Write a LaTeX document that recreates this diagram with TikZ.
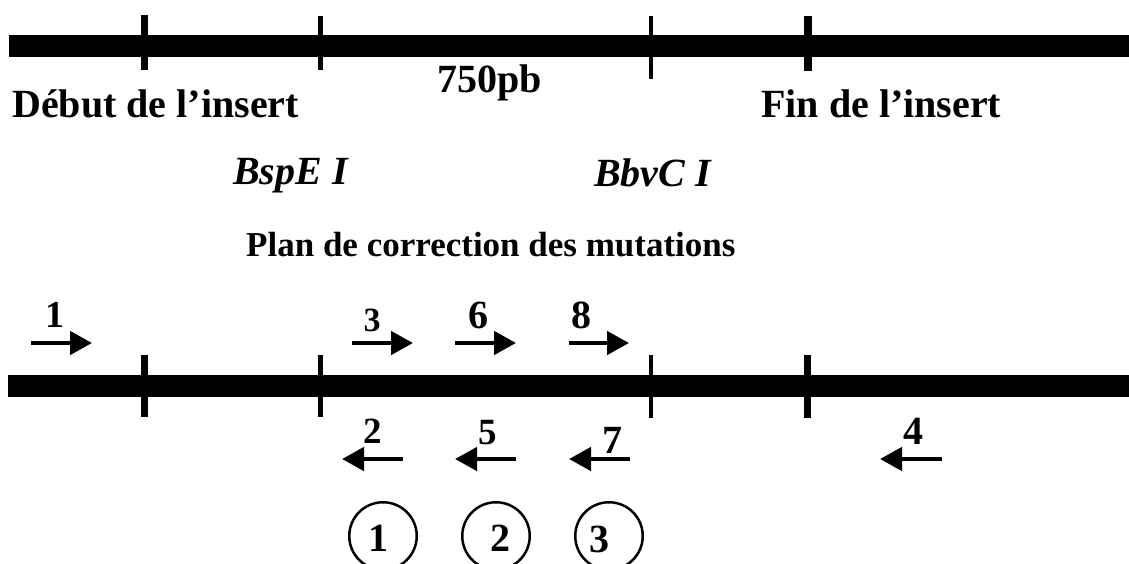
\documentclass[tikz,border=0pt]{standalone}
\usepackage{fontspec}
\setmainfont{Liberation Serif}
\usetikzlibrary{arrows.meta}
\begin{document}
\begin{tikzpicture}[x=1pt,y=-1pt,
  dnabar/.style={line width=22pt},
  site/.style={line width=#1},
  primer/.style={line width=4.6pt,-{Triangle[length=22pt,width=23pt]}},
  title/.style={font=\bfseries\fontsize{40}{48}\selectfont,inner sep=0pt,anchor=base west},
  enzyme/.style={font=\bfseries\itshape\fontsize{40}{48}\selectfont,inner sep=0pt,anchor=base west},
  caption/.style={font=\bfseries\fontsize{35}{42}\selectfont,inner sep=0pt,anchor=base west},
  num/.style={font=\bfseries\fontsize{#1}{#1}\selectfont,inner sep=0pt,anchor=base},
  num/.default=38,
  ring/.style={circle,draw,line width=2.5pt,minimum size=67.5pt,inner sep=0pt},
]
\useasboundingbox (0,0) rectangle (1129,564);
\clip (0,0) rectangle (1129,564);

% ---------- upper map ----------
\coordinate (tl) at (9,46);
\coordinate (tr) at (1129,46);
\draw[dnabar] (tl) -- (tr);
\coordinate (ta1) at (144.5,15); \coordinate (tb1) at (144.5,70);
\coordinate (ta2) at (320.5,16); \coordinate (tb2) at (320.5,70);
\coordinate (ta3) at (651,16);   \coordinate (tb3) at (651,79);
\coordinate (ta4) at (808,16);   \coordinate (tb4) at (808,71);
\draw[site=7.5pt] (ta1) -- (tb1);
\draw[site=4.5pt] (ta2) -- (tb2);
\draw[site=4.5pt] (ta3) -- (tb3);
\draw[site=8pt]   (ta4) -- (tb4);

\node[title] (debut) at (12,118) {Début de l’insert};
\node[title] (size)  at (437,93) {750pb};
\node[title] (fin)   at (761,118) {Fin de l’insert};
\node[enzyme] (bspe) at (233,185) {BspE I};
\node[enzyme] (bbvc) at (594,186) {BbvC I};
\node[caption] (plan) at (246,256) {Plan de correction des mutations};

% ---------- lower map ----------
\coordinate (bl) at (8,385.5);
\coordinate (br) at (1129,385.5);
\draw[dnabar] (bl) -- (br);
\coordinate (ba1) at (144.5,355); \coordinate (bb1) at (144.5,417);
\coordinate (ba2) at (320.5,355); \coordinate (bb2) at (320.5,417);
\coordinate (ba3) at (651,355);   \coordinate (bb3) at (651,418);
\coordinate (ba4) at (807,355);   \coordinate (bb4) at (807,418);
\draw[site=7pt]   (ba1) -- (bb1);
\draw[site=4.5pt] (ba2) -- (bb2);
\draw[site=4.5pt] (ba3) -- (bb3);
\draw[site=7pt]   (ba4) -- (bb4);

% forward primers
\coordinate (p1s) at (31,343);  \coordinate (p1e) at (92,343);
\coordinate (p3s) at (352,343); \coordinate (p3e) at (413,343);
\coordinate (p6s) at (455,343); \coordinate (p6e) at (516,343);
\coordinate (p8s) at (569,343); \coordinate (p8e) at (629,343);
\draw[primer] (p1s) -- (p1e);
\draw[primer] (p3s) -- (p3e);
\draw[primer] (p6s) -- (p6e);
\draw[primer] (p8s) -- (p8e);
\node[num=38] (n1) at (55,327) {1};
\node[num=34] (n3) at (372,331) {3};
\node[num=40] (n6) at (478,328) {6};
\node[num=40] (n8) at (581,328) {8};

% reverse primers
\coordinate (p2s) at (403,459); \coordinate (p2e) at (342,459);
\coordinate (p5s) at (516,459); \coordinate (p5e) at (455,459);
\coordinate (p7s) at (630,459); \coordinate (p7e) at (569,459);
\coordinate (p4s) at (942,459); \coordinate (p4e) at (880,459);
\draw[primer] (p2s) -- (p2e);
\draw[primer] (p5s) -- (p5e);
\draw[primer] (p7s) -- (p7e);
\draw[primer] (p4s) -- (p4e);
\node[num=37] (n2) at (373,443) {2};
\node[num=37] (n5) at (488,444) {5};
\node[num=40] (n7) at (612,453) {7};
\node[num=40] (n4) at (913,444) {4};

% correction steps
\node[ring] (c1) at (383,536) {};
\node[ring] (c2) at (496,536) {};
\node[ring] (c3) at (609,536) {};
\node[num=40] (s1) at (378,551) {1};
\node[num=40] (s2) at (500,551) {2};
\node[num=40] (s3) at (599,552) {3};
\end{tikzpicture}
\end{document}
